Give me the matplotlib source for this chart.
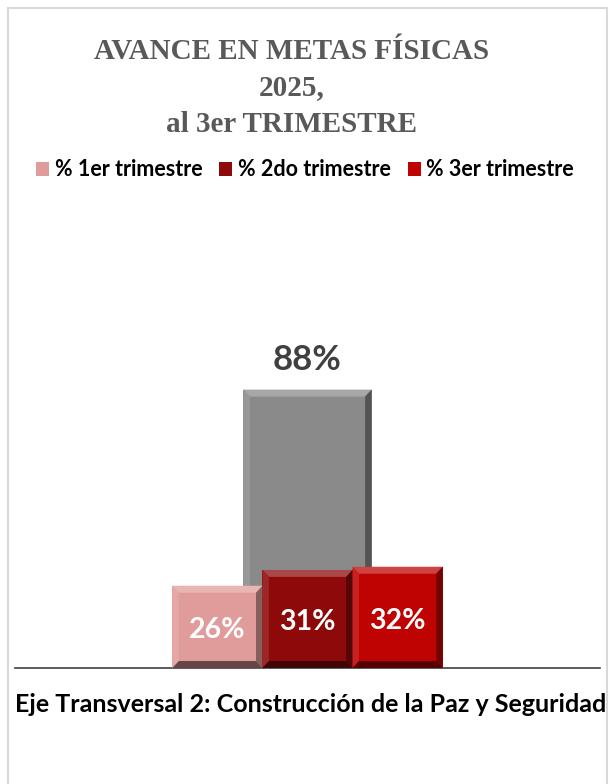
import matplotlib
matplotlib.use("Agg")
import matplotlib.pyplot as plt
from matplotlib.patches import Polygon
from matplotlib.lines import Line2D
from matplotlib.transforms import Bbox, TransformedBbox

TITLE = "AVANCE EN METAS FÍSICAS\n2025,\nal 3er TRIMESTRE"
CATEGORY = "Eje Transversal 2: Construcción de la Paz y Seguridad"
SERIES = ["% 1er trimestre", "% 2do trimestre", "% 3er trimestre"]
VALUES = [26, 31, 32]
COLORS = ["#E09C9A", "#8E0A0A", "#BF0303"]
TOTAL = 88                      # gray background bar (annual progress)
TOTAL_COLOR = "#8A8A8A"

SANS = ["Lato", "DejaVu Sans"]
W, H = 614, 784
fig = plt.figure(figsize=(W / 100, H / 100), dpi=100)

# light frame around the chart
for xs, ys in (([8, 607], [8, 8]), ([8, 8], [8, H]), ([607, 607], [8, H])):
    fig.add_artist(Line2D([x / W for x in xs], [1 - y / H for y in ys],
                          color="#D9D9D9", lw=1.5))

ax = fig.add_axes([15 / W, 1 - 668 / H, 585 / W, 348 / H])
ax.set_xlim(-0.5, 0.5)
ax.set_ylim(0, 110)
for s in ("top", "right", "left"):
    ax.spines[s].set_visible(False)
ax.spines["bottom"].set_color("#404040")
ax.spines["bottom"].set_linewidth(1.2)
ax.set_xticks([]); ax.set_yticks([])

bw = 0.154


def bevel(rect, color, d=0.011, dy=2.2):
    """fake Excel bevel: lighter top/left, darker bottom/right."""
    x0, y0 = rect.get_x(), rect.get_y()
    x1, y1 = x0 + rect.get_width(), y0 + rect.get_height()
    rgb = matplotlib.colors.to_rgb(color)
    light = tuple(min(1, c + (1 - c) * 0.25) for c in rgb)
    mid = tuple(min(1, c + (1 - c) * 0.12) for c in rgb)
    dark = tuple(c * 0.6 for c in rgb)
    darker = tuple(c * 0.45 for c in rgb)
    faces = [
        ([(x0, y1), (x1, y1), (x1 - d, y1 - dy), (x0 + d, y1 - dy)], light),
        ([(x0, y0), (x0, y1), (x0 + d, y1 - dy), (x0 + d, y0 + dy)], mid),
        ([(x1, y0), (x1, y1), (x1 - d, y1 - dy), (x1 - d, y0 + dy)], dark),
        ([(x0, y0), (x1, y0), (x1 - d, y0 + dy), (x0 + d, y0 + dy)], darker),
    ]
    for pts, c in faces:
        ax.add_patch(Polygon(pts, closed=True, fc=c, ec="none", zorder=rect.get_zorder() + 0.1))


tb = ax.bar(0, TOTAL, width=0.219, color=TOTAL_COLOR, zorder=2)
bevel(tb[0], TOTAL_COLOR)
ax.text(0, TOTAL + 4.3, f"{TOTAL}%", ha="center", va="bottom", fontsize=25,
        fontweight="bold", color="#404040", family=SANS)

handles = []
for i, (name, v, c) in enumerate(zip(SERIES, VALUES, COLORS)):
    b = ax.bar((i - 1) * bw, v, width=bw, color=c, zorder=3, label=name)
    bevel(b[0], c)
    handles.append(b)
    ax.text((i - 1) * bw, v / 2 - 1, f"{v}%", ha="center", va="center", fontsize=20.5,
            fontweight="bold", color="white", family=SANS, zorder=5)

fig.text(292 / W, 1 - 38 / H, TITLE, ha="center", va="top", fontsize=21,
         fontweight="bold", color="#595959", family=["Liberation Serif", "DejaVu Serif"],
         linespacing=1.45)

fig.legend(handles=handles, labels=SERIES, loc="center", ncol=3,
           bbox_to_anchor=(305 / W, 1 - 170 / H), frameon=False,
           prop={"family": SANS, "weight": "bold", "size": 15.5},
           handlelength=0.6, handleheight=0.6, handletextpad=0.25, columnspacing=0.8)

t = fig.text(15 / W, 1 - 705 / H, CATEGORY, ha="left", va="center", fontsize=18,
             fontweight="bold", color="black", family=SANS)
t.set_clip_box(TransformedBbox(Bbox([[0, 0], [607 / W, 1]]), fig.transFigure))
t.set_clip_on(True)

fig.savefig("out.png", dpi=100)
